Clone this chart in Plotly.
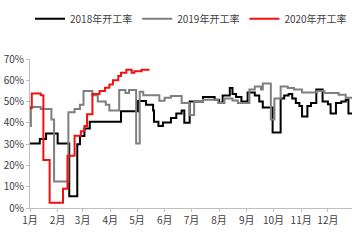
import plotly.graph_objects as go

# 2018 operating rate (%)
dates_2018 = ["2019-01-01","2019-01-12","2019-01-19","2019-02-01","2019-02-14","2019-02-23","2019-02-26",
              "2019-03-03","2019-03-09","2019-04-13","2019-05-02","2019-05-11","2019-05-19","2019-05-20",
              "2019-05-25","2019-05-30","2019-06-08","2019-06-14","2019-06-20","2019-06-23","2019-06-29",
              "2019-07-14","2019-07-27","2019-08-01","2019-08-05","2019-08-13","2019-08-16","2019-08-20",
              "2019-08-26","2019-09-02","2019-09-10","2019-09-15","2019-09-19","2019-09-30","2019-10-09",
              "2019-10-13","2019-10-18","2019-10-22","2019-10-26","2019-10-30","2019-11-02","2019-11-08",
              "2019-11-12","2019-11-18","2019-11-25","2019-12-01","2019-12-04","2019-12-10","2019-12-16",
              "2019-12-21","2019-12-24","2019-12-28"]
rate_2018 = [30.3,32.4,35.0,30.3,5.5,30.0,33.8,
             37.3,40.5,45.5,50.3,48.5,45.8,40.5,
             38.5,40.2,42.3,44.4,45.8,40.0,50.0,
             52.2,50.8,49.5,52.9,56.4,53.6,52.2,
             50.0,54.3,52.9,50.0,47.2,35.5,51.5,
             52.9,53.6,51.5,49.3,47.9,43.0,47.9,
             49.3,55.7,50.0,48.7,44.4,49.3,50.0,
             50.8,44.4,44.4]

# 2019 operating rate (%)
dates_2019 = ["2019-01-01","2019-01-02","2019-01-13","2019-01-25","2019-01-28","2019-02-13","2019-02-20",
              "2019-02-26","2019-03-02","2019-03-12","2019-03-18","2019-03-27","2019-03-31","2019-04-11",
              "2019-04-18","2019-04-22","2019-04-30","2019-05-04","2019-05-08","2019-05-26","2019-06-01",
              "2019-06-08","2019-06-20","2019-06-29","2019-07-04","2019-07-14","2019-07-31","2019-08-07",
              "2019-08-16","2019-08-22","2019-09-04","2019-09-10","2019-09-17","2019-09-19","2019-09-28",
              "2019-10-02","2019-10-09","2019-10-17","2019-10-24","2019-11-02","2019-11-19","2019-11-27",
              "2019-12-13","2019-12-21","2019-12-28"]
rate_2019 = [38.5,47.5,46.5,41.6,12.5,45.0,46.5,
             48.5,55.0,53.0,50.0,48.5,45.8,55.4,
             54.0,55.4,30.3,54.6,53.0,50.4,51.8,
             52.6,49.3,43.7,50.0,50.8,49.3,51.5,
             50.5,49.3,55.7,57.1,55.7,58.5,41.6,
             51.5,57.1,56.4,55.7,54.3,55.0,54.0,
             53.2,51.8,51.8]

# 2020 operating rate (%)
dates_2020 = ["2019-01-01","2019-01-03","2019-01-13","2019-01-16","2019-01-23","2019-02-07","2019-02-12",
              "2019-02-20","2019-02-27","2019-03-03","2019-03-06","2019-03-12","2019-03-20","2019-03-26",
              "2019-03-31","2019-04-04","2019-04-10","2019-04-13","2019-04-19","2019-04-25","2019-04-28",
              "2019-05-06","2019-05-15"]
rate_2020 = [47.0,53.8,53.0,22.5,2.5,9.0,24.5,
             34.0,36.0,38.5,44.0,53.5,55.0,56.5,
             58.0,60.0,62.0,63.5,65.0,63.5,64.2,
             65.0,65.0]

month_ticks = ["2019-%02d-01" % m for m in range(1, 13)]
month_labels = ["%d月" % m for m in range(1, 13)]
y_ticks = [0, 10, 20, 30, 40, 50, 60, 70]
y_labels = ["%d%%" % v for v in y_ticks]

fig = go.Figure()
for name, xs, ys, color in [("2018年开工率", dates_2018, rate_2018, "#000000"),
                            ("2019年开工率", dates_2019, rate_2019, "#7f7f7f"),
                            ("2020年开工率", dates_2020, rate_2020, "#ee1111")]:
    fig.add_trace(go.Scatter(x=xs, y=ys, name=name, mode="lines",
                             line=dict(color=color, width=2, shape="hv")))

font_family = "Noto Sans CJK SC, Liberation Sans, Arial, sans-serif"
fig.update_layout(
    width=356, height=241,
    margin=dict(l=30, r=4, t=43, b=33),
    paper_bgcolor="white", plot_bgcolor="white",
    font=dict(family=font_family, size=10, color="#404040"),
    showlegend=True,
    legend=dict(orientation="h", x=0.5, xanchor="center", y=1.27, yanchor="middle",
                font=dict(size=10, color="#404040"), itemwidth=30, tracegroupgap=0,
                bgcolor="rgba(0,0,0,0)"),
    xaxis=dict(type="date", range=["2019-01-01", "2019-12-28"],
               tickvals=month_ticks, ticktext=month_labels,
               showgrid=False, zeroline=False, showline=True, linecolor="#bfbfbf", linewidth=1,
               ticks="outside", ticklen=3, tickcolor="#bfbfbf",
               tickfont=dict(size=10, color="#404040")),
    yaxis=dict(range=[0, 70], tickvals=y_ticks, ticktext=y_labels,
               showgrid=False, zeroline=False, showline=True, linecolor="#bfbfbf", linewidth=1,
               ticks="outside", ticklen=3, tickcolor="#bfbfbf",
               tickfont=dict(size=10, color="#404040")),
)

fig.write_html("out.html")
